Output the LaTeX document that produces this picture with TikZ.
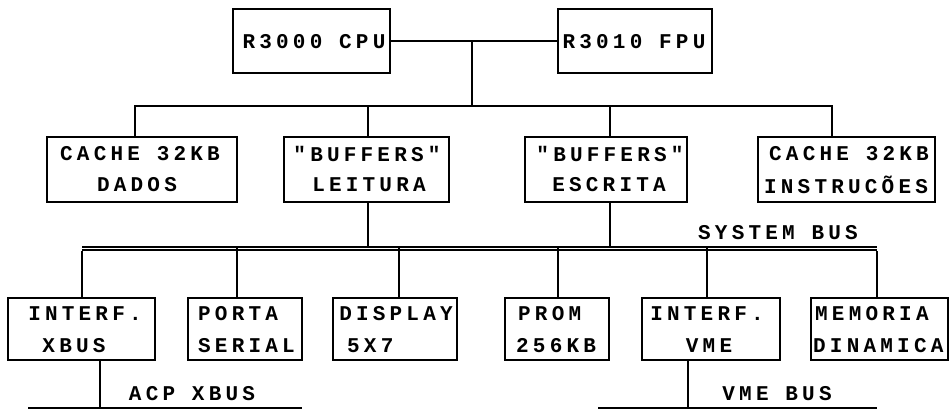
\documentclass[tikz,border=0pt]{standalone}
\usepackage{fontspec}
\newfontfamily\diagfont[LetterSpace=20]{Liberation Mono Bold}
\tikzset{
  box/.style={draw, line width=2pt, rectangle, inner sep=0pt},
  txt/.style={font=\diagfont\fontsize{21}{21}\selectfont, inner sep=0pt},
  wire/.style={line width=2pt},
  sysbus/.style={line width=2pt, double, double distance=1pt},
  busline/.style={line width=2.4pt},
}
\begin{document}
\begin{tikzpicture}[x=1pt,y=-1pt]
\useasboundingbox (0,0) rectangle (950,412);
% top
\node[box, minimum width=157pt, minimum height=64pt] (cpu) at (311.5,41) {};
\node[box, minimum width=154pt, minimum height=64pt] (fpu) at (635,41) {};
\node[txt] (tcpu) at (314,42) {R3000 CPU};
\node[txt] (tfpu) at (634,42) {R3010 FPU};
% middle
\node[box, minimum width=190pt, minimum height=65pt] (dados) at (142,169.5) {};
\node[box, minimum width=165pt, minimum height=65pt] (leit) at (366,169.5) {};
\node[box, minimum width=162pt, minimum height=65pt] (escr) at (606,169.5) {};
\node[box, minimum width=177pt, minimum height=65pt] (instr) at (846.5,169.5) {};
\node[txt] (td1) at (140,154) {CACHE 32KB};
\node[txt] (td2) at (137,185) {DADOS};
\node[txt] (tl1) at (367,154) {"BUFFERS"};
\node[txt] (tl2) at (369,185) {LEITURA};
\node[txt] (te1) at (610,154) {"BUFFERS"};
\node[txt] (te2) at (609,185) {ESCRITA};
\node[txt] (ti1) at (849,154) {CACHE 32KB};
\node[txt] (ti2) at (846,185) {INSTRUCÕES};
% bottom
\node[box, minimum width=147pt, minimum height=62pt] (xbus) at (81.5,329) {};
\node[box, minimum width=114pt, minimum height=62pt] (serial) at (245,329) {};
\node[box, minimum width=124pt, minimum height=62pt] (disp) at (395,329) {};
\node[box, minimum width=104pt, minimum height=62pt] (prom) at (557,329) {};
\node[box, minimum width=138pt, minimum height=62pt] (vme) at (711,329) {};
\node[box, minimum width=137pt, minimum height=62pt] (mem) at (879.5,329) {};
\node[txt] (tx1) at (85,314) {INTERF.};
\node[txt] (tx2) at (74,346) {XBUS};
\node[txt, anchor=west] (ts1) at (198,314) {PORTA};
\node[txt, anchor=west] (ts2) at (198,346) {SERIAL};
\node[txt] (tp1) at (396,314) {DISPLAY};
\node[txt, anchor=west] (tp2) at (347,346) {5X7};
\node[txt, anchor=west] (tr1) at (518,314) {PROM};
\node[txt, anchor=west] (tr2) at (516,346) {256KB};
\node[txt] (tv1) at (707,314) {INTERF.};
\node[txt] (tv2) at (709,346) {VME};
\node[txt, anchor=west] (tm1) at (815,314) {MEMORIA};
\node[txt, anchor=west] (tm2) at (813,346) {DINAMICA};
% bus labels
\node[txt] (lsys) at (778,233) {SYSTEM BUS};
\node[txt] (lacp) at (192,394) {ACP XBUS};
\node[txt] (lvme) at (777,394) {VME BUS};
% connectors top
\draw[wire] (cpu.east) -- (fpu.west);
\coordinate (cj) at (472,41);
\coordinate (ubl) at (135,106);
\coordinate (ubm) at (472,106);
\coordinate (ubr) at (832,106);
\draw[wire] (cj) -- (ubm);
\draw[wire] (dados.north -| ubl) -- (ubl) -- (ubr) -- (instr.north -| ubr);
\draw[wire] ([xshift=2pt]leit.north) -- ([xshift=2pt]leit.north |- ubl);
\draw[wire] ([xshift=4pt]escr.north) -- ([xshift=4pt]escr.north |- ubl);
% system bus
\coordinate (sbl) at (82,248);
\coordinate (sbr) at (877,248);
\draw[sysbus] (sbl) -- (sbr);
\draw[wire] ([xshift=2pt]leit.south) -- ([xshift=2pt]leit.south |- sbl);
\draw[wire] ([xshift=4pt]escr.south) -- ([xshift=4pt]escr.south |- sbl);
\draw[wire] (xbus.north -| sbl) -- ([yshift=-2.5pt]sbl);
\draw[wire] ([xshift=-8pt]serial.north) -- ([xshift=-8pt]serial.north |- sbl);
\draw[wire] ([xshift=4pt]disp.north) -- ([xshift=4pt]disp.north |- sbl);
\draw[wire] ([xshift=1pt]prom.north) -- ([xshift=1pt]prom.north |- sbl);
\draw[wire] ([xshift=-4pt]vme.north) -- ([xshift=-4pt]vme.north |- sbl);
\draw[wire] (mem.north -| sbr) -- ([yshift=-2.5pt]sbr);
% lower buses
\coordinate (ax) at (100,408);
\coordinate (axl) at (28,408);
\coordinate (axr) at (302,408);
\draw[wire] (xbus.south -| ax) -- (ax);
\draw[busline] (axl) -- (axr);
\coordinate (vx) at (688,408);
\coordinate (vxl) at (598,408);
\coordinate (vxr) at (877,408);
\draw[wire] (vme.south -| vx) -- (vx);
\draw[busline] (vxl) -- (vxr);
\end{tikzpicture}
\end{document}
